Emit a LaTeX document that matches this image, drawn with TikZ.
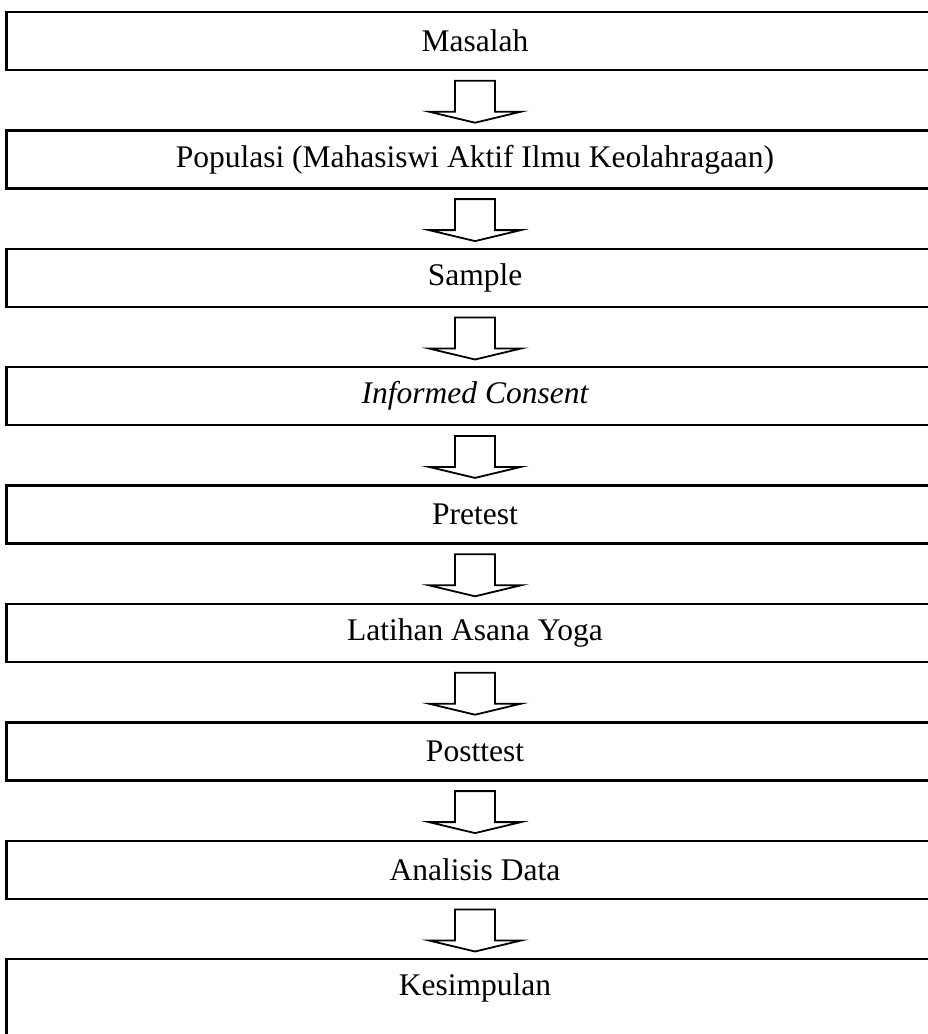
\documentclass[tikz,border=0pt]{standalone}
\usepackage{fontspec}
\setmainfont{Liberation Serif}
\usetikzlibrary{positioning,calc}

\tikzset{
  stage/.style={draw, line width=2.4pt, minimum width=937pt, minimum height=58pt,
    inner sep=0pt, font=\fontsize{31.5}{38}\selectfont},
  laststage/.style={stage, minimum height=0pt, text height=36pt, text depth=70pt},
  flow/.style={draw, line width=1.8pt, line join=miter}
}

\begin{document}
\begin{tikzpicture}[x=1pt, y=1pt, node distance=58pt]
  \useasboundingbox (0,0) rectangle (927,-1034);

  % Define nodes
  \node[stage] at (475,-41)        (mas)  {Masalah};
  \node[stage, below=of mas]       (pop)  {Populasi (Mahasiswi Aktif Ilmu Keolahragaan)};
  \node[stage, below=of pop]       (smp)  {Sample};
  \node[stage, below=of smp]       (ic)   {\itshape Informed Consent};
  \node[stage, below=of ic]        (pre)  {Pretest};
  \node[stage, below=of pre]       (lat)  {Latihan Asana Yoga};
  \node[stage, below=of lat]       (post) {Posttest};
  \node[stage, below=of post]      (ana)  {Analisis Data};
  \node[laststage, below=of ana]   (kes)  {Kesimpulan};

  % Connect the nodes
  \foreach \a/\b in {mas/pop, pop/smp, smp/ic, ic/pre, pre/lat, lat/post, post/ana, ana/kes}
    \draw[flow] ($(\a.south)!0.5!(\b.north)$) ++(-20,19.5) -- ++(0,-31) -- ++(-26,0)
      -- ++(46,-11) -- ++(46,11) -- ++(-26,0) -- ++(0,31) -- cycle;

\end{tikzpicture}
\end{document}
